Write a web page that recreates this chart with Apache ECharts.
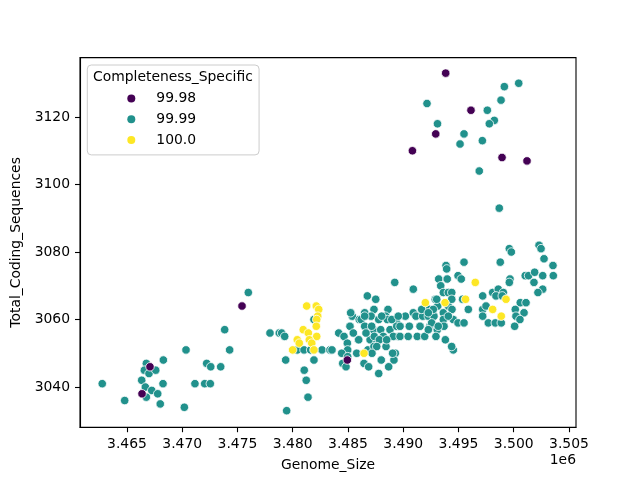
<!DOCTYPE html>
<html>
<head>
<meta charset="utf-8">
<script src="https://cdn.jsdelivr.net/npm/echarts@6/dist/echarts.min.js"></script>
<style>html,body{margin:0;padding:0;background:#fff}#c{width:640px;height:480px}</style>
</head>
<body>
<div id="c"></div>
<script>
const xTicks = [3465000, 3470000, 3475000, 3480000, 3485000, 3490000, 3495000, 3500000, 3505000];
const yTicks = [3040, 3060, 3080, 3100, 3120];
const seriesNames = ['99.98', '99.99', '100.0'];
const seriesColors = ['#440154', '#21918c', '#fde725'];

const pts9998 = [
 [3475410,3064],[3467080,3046],[3466360,3038],[3484940,3048],[3493840,3133],[3496130,3122],
 [3492940,3115],[3490830,3110],[3498940,3108],[3501200,3107]
];

const pts10000 = [
 [3481260,3064],[3482130,3064],[3482350,3063],[3482260,3061],[3482170,3060],[3482130,3058],
 [3480950,3057],[3481410,3056],[3482170,3055],[3480410,3054],[3480590,3053],[3481500,3054],
 [3481720,3053],[3479990,3051],[3481920,3051],[3486450,3050],[3492000,3065],[3493780,3065],
 [3496520,3071],[3499300,3066],[3495640,3066],[3498090,3063],[3498870,3061]
];

const pts9999 = [
 [3475980,3068],[3473840,3057],[3474290,3051],[3470340,3051],[3468290,3048],[3466750,3047],
 [3466570,3045],[3466990,3044],[3467600,3045],[3472210,3047],[3472580,3046],[3473480,3046],
 [3462760,3041],[3466330,3042],[3468260,3041],[3471150,3041],[3472030,3041],[3472540,3041],
 [3466660,3040],[3467240,3039],[3467780,3038],[3466750,3037],[3464790,3036],[3468010,3035],[3470190,3034],
 [3481920,3060],[3477940,3056],[3478780,3056],[3479000,3056],[3479270,3055],[3480410,3051],
 [3481020,3051],[3481620,3051],[3482650,3051],[3483370,3051],[3479360,3048],[3481920,3048],
 [3481040,3045],[3481220,3042],[3481380,3037],[3479450,3033],
 [3485270,3062],[3485390,3061],[3486020,3060],[3485180,3058],[3485480,3056],[3484160,3056],
 [3484640,3055],[3485930,3054],[3484940,3053],[3484970,3051],[3484430,3050],[3485790,3050],
 [3484970,3049],[3484520,3047],[3484820,3046],
 [3493870,3076],[3493930,3075],[3493210,3072],[3493980,3072],[3494960,3073],[3489230,3071],
 [3490910,3069],[3493390,3070],[3493630,3068],[3494080,3068],[3492900,3066],[3486750,3067],
 [3487510,3066],[3493120,3064],[3492360,3063],[3493630,3062],[3494080,3064],[3494410,3063],
 [3494530,3060],[3494960,3059],[3485240,3062],[3486510,3062],[3487350,3063],[3488620,3063],
 [3486190,3060],[3487090,3061],[3487780,3060],[3488410,3061],[3488560,3060],[3490190,3061],
 [3490910,3062],[3491150,3061],[3491760,3061],[3492270,3061],[3492780,3061],[3493630,3060],
 [3489410,3059],[3490550,3058],[3491520,3058],[3492420,3058],[3493080,3057],[3493690,3058],
 [3486510,3058],[3487290,3057],[3487960,3057],[3488800,3057],[3489590,3055],[3491270,3055],
 [3491940,3055],[3492960,3055],[3493810,3054],[3485970,3054],[3487000,3054],[3487600,3053],
 [3488440,3052],[3486790,3051],[3487350,3052],[3483550,3051],[3489280,3050],[3494530,3051],
 [3486450,3047],[3486870,3046],[3488010,3048],[3489160,3048],[3488680,3046],[3487780,3044],
 [3502290,3082],[3502470,3081],[3499600,3081],[3499780,3080],[3502740,3078],[3503550,3076],
 [3503580,3073],[3495500,3077],[3498780,3077],[3501040,3073],[3501340,3073],[3501890,3074],
 [3502620,3073],[3501830,3071],[3502620,3069],[3502190,3068],[3499660,3072],[3499600,3071],
 [3495250,3072],[3497190,3067],[3498090,3068],[3498600,3069],[3499060,3068],[3498390,3067],
 [3498960,3067],[3495370,3066],[3500590,3065],[3501110,3065],[3495890,3063],[3497190,3063],
 [3497490,3064],[3500140,3063],[3500930,3062],[3497190,3061],[3500200,3061],[3500560,3060],
 [3497700,3059],[3498330,3059],[3498870,3059],[3500080,3058],[3495500,3059],
 [3499150,3129],[3500450,3130],[3492150,3124],[3497610,3122],[3498850,3125],[3498240,3119],
 [3497790,3118],[3493100,3118],[3495500,3115],[3495140,3112],[3497160,3113],[3496880,3104],[3498690,3093],
 [3486510,3061],[3488050,3061],[3488960,3060],[3487140,3058],[3489410,3058],[3486630,3056],
 [3487380,3055],[3488200,3055],[3489100,3055],[3487840,3054],[3488500,3054],[3487600,3052],
 [3487170,3050],[3489040,3050],
 [3494390,3068],[3493030,3066],[3494390,3066],[3492720,3063],[3491670,3063],[3492270,3062],
 [3494080,3061],[3489550,3061],[3492570,3059],[3493170,3058],[3489710,3058],[3492270,3057],
 [3489710,3055],[3490450,3055],[3494380,3052]
];

const FONT = 'DejaVu Sans';
const FS = 13.9;

function scatter(name, color, data, z) {
  return {
    name: name, type: 'scatter', data: data, symbol: 'circle', symbolSize: 8.5, z: z,
    itemStyle: { color: color, borderColor: '#ffffff', borderWidth: 0.8, opacity: 1 },
    emphasis: { disabled: true }, animation: false
  };
}

const chart = echarts.init(document.getElementById('c'), null, { renderer: 'canvas' });
chart.setOption({
  animation: false,
  backgroundColor: '#ffffff',
  grid: { left: 80, right: 64, top: 57.6, bottom: 52.8, show: true, borderColor: '#000', borderWidth: 1.1, backgroundColor: 'transparent', containLabel: false, outerBoundsMode: 'none' },
  xAxis: {
    type: 'value', min: 3460747, max: 3505634,
    name: 'Genome_Size', nameLocation: 'middle', nameGap: 31,
    nameTextStyle: { fontFamily: FONT, fontSize: FS, color: '#000' },
    splitLine: { show: false },
    axisLine: { show: true, lineStyle: { color: '#000', width: 1.1 } },
    axisTick: { show: true, inside: false, length: 5, lineStyle: { color: '#000', width: 1.1 }, customValues: xTicks },
    axisLabel: { show: true, margin: 10, fontFamily: FONT, fontSize: FS, color: '#000', customValues: xTicks,
      formatter: v => (v / 1e6).toFixed(3) }
  },
  yAxis: {
    type: 'value', min: 3028.1, max: 3137.6,
    name: 'Total_Coding_Sequences', nameLocation: 'middle', nameGap: 46, nameRotate: 90,
    nameTextStyle: { fontFamily: FONT, fontSize: FS, color: '#000' },
    splitLine: { show: false },
    axisLine: { show: true, lineStyle: { color: '#000', width: 1.1 } },
    axisTick: { show: true, inside: false, length: 5, lineStyle: { color: '#000', width: 1.1 }, customValues: yTicks },
    axisLabel: { show: true, margin: 10, fontFamily: FONT, fontSize: FS, color: '#000', customValues: yTicks,
      formatter: v => String(v) }
  },
  legend: {
    show: true, orient: 'vertical', left: 87.3, top: 65,
    data: seriesNames,
    icon: 'circle', itemWidth: 40, itemHeight: 8, itemGap: 6.7,
    padding: [26.5, 63, 8, 40],
    itemStyle: { borderWidth: 0 },
    borderColor: '#cccccc', borderWidth: 1, borderRadius: 4, backgroundColor: 'rgba(255,255,255,0.8)',
    textStyle: { fontFamily: FONT, fontSize: FS, color: '#000' },
    selectedMode: false
  },
  graphic: [
    { type: 'text', left: 93, top: 70, z: 100, style: { text: 'Completeness_Specific', fontFamily: FONT, fontSize: FS, fill: '#000' } },
    { type: 'text', right: 64, top: 453, z: 100, style: { text: '1e6', fontFamily: FONT, fontSize: FS, fill: '#000' } }
  ],
  series: [
    scatter(seriesNames[1], seriesColors[1], pts9999, 2),
    scatter(seriesNames[2], seriesColors[2], pts10000, 3),
    scatter(seriesNames[0], seriesColors[0], pts9998, 4)
  ]
});
</script>
</body>
</html>
